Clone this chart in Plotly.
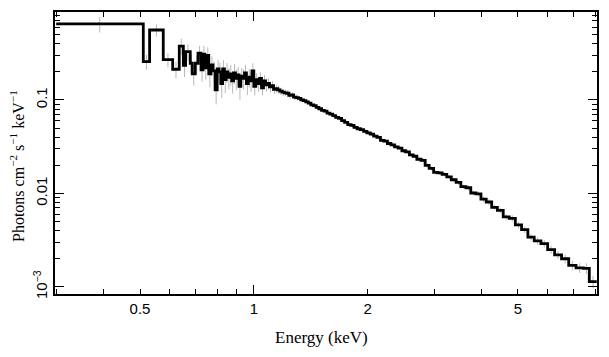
import plotly.graph_objects as go

# Bin edges (keV)
bin_edges = [
    0.30, 0.51, 0.53, 0.576, 0.61, 0.635, 0.651, 0.660, 0.679, 0.687,
    0.700, 0.712, 0.725, 0.734, 0.742, 0.751, 0.760, 0.770, 0.780, 0.790,
    0.800, 0.809, 0.818, 0.827, 0.836, 0.845, 0.854, 0.864, 0.874, 0.884,
    0.894, 0.904, 0.914, 0.924, 0.934, 0.945, 0.956, 0.967, 0.978, 0.989,
    1.000, 1.012, 1.024, 1.036, 1.048, 1.061, 1.074, 1.087, 1.100, 1.114,
    1.128, 1.142, 1.157, 1.172, 1.188, 1.204, 1.221, 1.238, 1.256, 1.274,
    1.293, 1.312, 1.332, 1.352, 1.373, 1.394, 1.416, 1.439, 1.462, 1.486,
    1.511, 1.536, 1.562, 1.589, 1.617, 1.646, 1.676, 1.707, 1.739, 1.772,
    1.806, 1.841, 1.877, 1.914, 1.952, 1.992, 2.033, 2.075, 2.118, 2.163,
    2.209, 2.257, 2.306, 2.357, 2.41, 2.465, 2.52, 2.58, 2.64, 2.70,
    2.77, 2.84, 2.91, 2.99, 3.07, 3.15, 3.24, 3.33, 3.43, 3.53,
    3.64, 3.75, 3.87, 3.99, 4.12, 4.26, 4.41, 4.57, 4.74, 4.92,
    5.11, 5.31, 5.52, 5.75, 5.99, 6.25, 6.52, 6.81, 7.12, 7.45,
    7.72, 8.08,
]

# Photons cm^-2 s^-1 keV^-1 per bin
flux = [
    0.65, 0.257, 0.56, 0.27, 0.213, 0.377, 0.234, 0.329, 0.247, 0.19,
    0.247, 0.316, 0.21, 0.31, 0.22, 0.30, 0.19, 0.237, 0.205, 0.128,
    0.215, 0.20, 0.15, 0.215, 0.165, 0.20, 0.175, 0.19, 0.16, 0.195,
    0.17, 0.185, 0.14, 0.18, 0.17, 0.195, 0.15, 0.175, 0.16, 0.205,
    0.14, 0.165, 0.15, 0.17, 0.135, 0.16, 0.145, 0.15, 0.138, 0.142,
    0.13, 0.132, 0.128, 0.124, 0.121, 0.119, 0.118, 0.112, 0.113, 0.107,
    0.106, 0.104, 0.100, 0.0985, 0.0955, 0.0925, 0.0885, 0.087, 0.0835, 0.0805,
    0.0775, 0.076, 0.0722, 0.0705, 0.068, 0.065, 0.0635, 0.060, 0.0575, 0.0545,
    0.0535, 0.051, 0.0492, 0.0482, 0.0462, 0.0445, 0.0432, 0.041, 0.0398, 0.037,
    0.0362, 0.0342, 0.033, 0.0315, 0.0305, 0.0286, 0.0279, 0.0258, 0.025, 0.0232,
    0.0226, 0.020, 0.0185, 0.0168, 0.0166, 0.016, 0.015, 0.014, 0.0131, 0.0118,
    0.0115, 0.0101, 0.0099, 0.0087, 0.0081, 0.0071, 0.0066, 0.0056, 0.0054, 0.0046,
    0.0041, 0.0034, 0.0031, 0.0029, 0.0025, 0.0022, 0.0020, 0.0017, 0.0016, 0.00158,
    0.00114,
]

# Relative 1-sigma errors per bin
rel_err = [
    0.19, 0.18, 0.15, 0.17, 0.20, 0.20, 0.25, 0.20, 0.22, 0.25,
    0.22, 0.20, 0.25, 0.22, 0.25, 0.22, 0.28, 0.24, 0.25, 0.30,
    0.24, 0.25, 0.30, 0.24, 0.28, 0.24, 0.26, 0.25, 0.27, 0.24,
    0.25, 0.22, 0.28, 0.22, 0.24, 0.22, 0.25, 0.22, 0.24, 0.20,
    0.20, 0.17, 0.18, 0.16, 0.17, 0.15, 0.15, 0.14, 0.13, 0.12,
    0.11, 0.10, 0.10, 0.09, 0.09, 0.08, 0.08, 0.08, 0.07, 0.07,
    0.07, 0.06, 0.06, 0.06, 0.06, 0.06, 0.06, 0.06, 0.06, 0.06,
    0.05, 0.05, 0.05, 0.05, 0.05, 0.05, 0.05, 0.05, 0.05, 0.05,
    0.05, 0.05, 0.05, 0.05, 0.05, 0.05, 0.05, 0.05, 0.05, 0.05,
    0.05, 0.05, 0.05, 0.05, 0.05, 0.05, 0.05, 0.05, 0.05, 0.05,
    0.05, 0.05, 0.05, 0.05, 0.05, 0.05, 0.05, 0.05, 0.05, 0.05,
    0.06, 0.06, 0.06, 0.07, 0.07, 0.07, 0.07, 0.07, 0.08, 0.08,
    0.08, 0.08, 0.09, 0.09, 0.10, 0.10, 0.11, 0.12, 0.12, 0.13,
    0.15,
]

x_tick_vals = [0.3, 0.4, 0.5, 0.6, 0.7, 0.8, 0.9, 1, 2, 3, 4, 5, 6, 7, 8]
x_tick_text = ["", "", "0.5", "", "", "", "", "1", "2", "", "", "5", "", "", ""]
y_tick_vals = [0.001, 0.002, 0.003, 0.004, 0.005, 0.006, 0.007, 0.008, 0.009,
               0.01, 0.02, 0.03, 0.04, 0.05, 0.06, 0.07, 0.08, 0.09,
               0.1, 0.2, 0.3, 0.4, 0.5, 0.6, 0.7, 0.8]
y_tick_text = ["10<sup>−3</sup>"] + [""] * 8 + ["0.01"] + [""] * 8 + ["0.1"] + [""] * 7

x_title = "Energy (keV)"
y_title = "Photons cm<sup>−2</sup> s<sup>−1</sup> keV<sup>−1</sup>"

n = len(flux)
centers = [(bin_edges[i] * bin_edges[i + 1]) ** 0.5 for i in range(n)]
errs = [flux[i] * rel_err[i] for i in range(n)]
step_x = bin_edges[:]
step_y = flux + [flux[-1]]

fig = go.Figure()
fig.add_trace(go.Scatter(
    x=centers, y=flux, mode="markers",
    marker=dict(size=1, color="rgba(0,0,0,0)"),
    error_y=dict(type="data", array=errs, visible=True, color="#b8b8b8",
                 thickness=1, width=0),
    showlegend=False, hoverinfo="skip"))
fig.add_trace(go.Scatter(
    x=step_x, y=step_y, mode="lines", line=dict(shape="hv", color="black", width=2.8),
    showlegend=False))
# dummy trace for the overlay axes carrying long decade ticks
fig.add_trace(go.Scatter(x=[1], y=[0.1], xaxis="x2", yaxis="y2", mode="markers",
                         marker=dict(color="rgba(0,0,0,0)"), showlegend=False,
                         hoverinfo="skip"))

xr = [-0.526, 0.908]
yr = [-3.076, -0.059]
tickfont = dict(family="Liberation Sans, Arial, sans-serif", size=15, color="black")
titlefont_x = dict(family="Liberation Serif, Times New Roman, serif", size=17, color="black")
titlefont_y = dict(family="Liberation Serif, Times New Roman, serif", size=16, color="black")

# page body has an 8px default margin: figure is placed at (8, 8)
fig.update_layout(
    width=601, height=349,
    margin=dict(l=47, r=12, t=4, b=63, autoexpand=False),
    paper_bgcolor="white", plot_bgcolor="white",
    xaxis=dict(type="log", range=xr, tickvals=x_tick_vals, ticktext=x_tick_text,
               ticks="inside", ticklen=5, tickwidth=1.3, tickcolor="black",
               showline=True, linecolor="black", linewidth=2, mirror="ticks",
               showgrid=False, zeroline=False, tickfont=tickfont, automargin=False),
    yaxis=dict(type="log", range=yr, tickvals=y_tick_vals, ticktext=y_tick_text,
               ticks="inside", ticklen=5, tickwidth=1.3, tickcolor="black",
               showline=True, linecolor="black", linewidth=2, mirror="ticks",
               showgrid=False, zeroline=False, tickfont=tickfont, tickangle=-90,
               automargin=False),
    xaxis2=dict(type="log", range=xr, overlaying="x", anchor="y2", side="bottom",
                tickvals=[1], ticks="inside", ticklen=9, tickwidth=1.3, tickcolor="black",
                showticklabels=False, showline=True, linecolor="black", linewidth=2,
                mirror="ticks", showgrid=False, zeroline=False, automargin=False),
    yaxis2=dict(type="log", range=yr, overlaying="y", anchor="x2", side="left",
                tickvals=[0.001, 0.01, 0.1], ticks="inside", ticklen=9, tickwidth=1.3,
                tickcolor="black", showticklabels=False, showline=True, linecolor="black",
                linewidth=2, mirror="ticks", showgrid=False, zeroline=False,
                automargin=False),
    annotations=[
        dict(text=x_title, xref="paper", yref="paper", x=0.491, y=-0.156,
             xanchor="center", yanchor="middle", showarrow=False, font=titlefont_x),
        dict(text=y_title, xref="paper", yref="paper", x=-0.0701, y=0.454,
             xanchor="center", yanchor="middle", showarrow=False, textangle=-90,
             font=titlefont_y),
    ],
)

fig.write_html("out.html")
